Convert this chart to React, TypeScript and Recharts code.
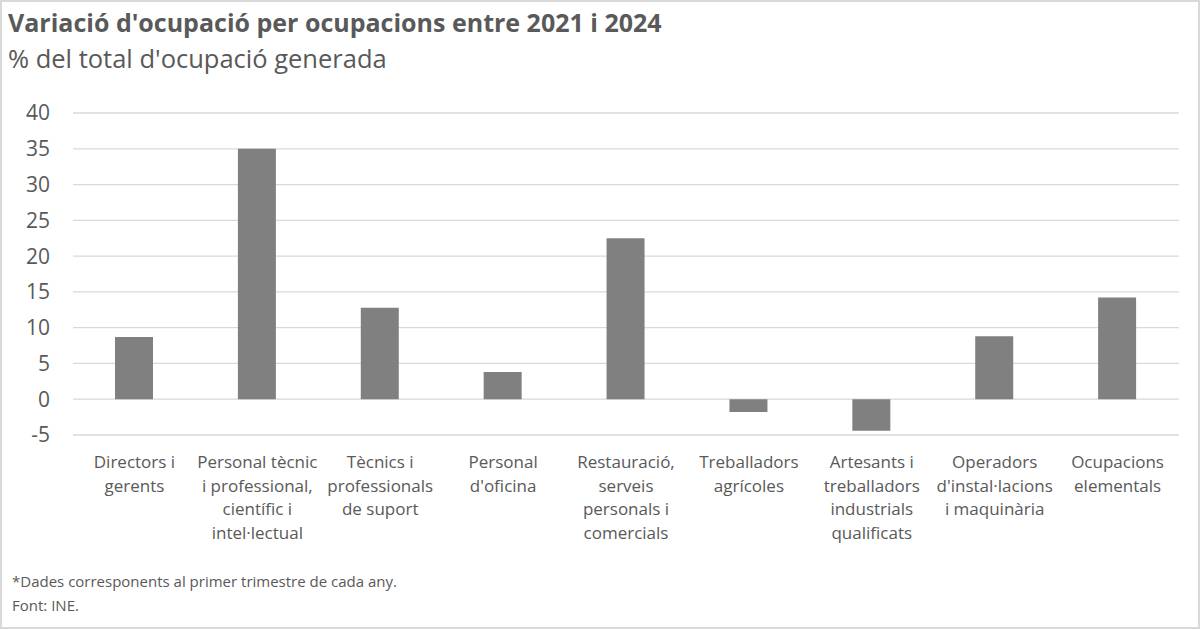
import { BarChart, Bar, XAxis, YAxis, CartesianGrid } from 'recharts'

const categories = [
  'Directors i gerents',
  'Personal tècnic i professional, científic i intel·lectual',
  'Tècnics i professionals de suport',
  "Personal d'oficina",
  'Restauració, serveis personals i comercials',
  'Treballadors agrícoles',
  'Artesants i treballadors industrials qualificats',
  "Operadors d'instal·lacions i maquinària",
  'Ocupacions elementals',
]

// how each category label wraps under the axis
const labelLines = [
  ['Directors i', 'gerents'],
  ['Personal tècnic', 'i professional,', 'científic i', 'intel·lectual'],
  ['Tècnics i', 'professionals', 'de suport'],
  ['Personal', "d'oficina"],
  ['Restauració,', 'serveis', 'personals i', 'comercials'],
  ['Treballadors', 'agrícoles'],
  ['Artesants i', 'treballadors', 'industrials', 'qualificats'],
  ['Operadors', "d'instal·lacions", 'i maquinària'],
  ['Ocupacions', 'elementals'],
]

const values = [8.7, 35.0, 12.8, 3.8, 22.5, -1.8, -4.4, 8.8, 14.2]

const yTicks = [-5, 0, 5, 10, 15, 20, 25, 30, 35, 40]

const data = categories.map((name, i) => ({ name, value: values[i] }))

const FONT = '"Open Sans", Lato, sans-serif'
const TEXT = '#595959'

function CategoryTick(props: any) {
  const { x, y, index } = props
  const lines = labelLines[index] || []
  return (
    <text x={x} y={y} textAnchor="middle" fill={TEXT} fontSize={17} fontFamily={FONT}>
      {lines.map((l, i) => (
        <tspan key={i} x={x} dy={i === 0 ? 25 : 23.6}>
          {l}
        </tspan>
      ))}
    </text>
  )
}

export default function App() {
  return (
    <div
      style={{
        position: 'absolute',
        left: 0,
        top: 0,
        width: 1200,
        height: 629,
        boxSizing: 'border-box',
        border: '2px solid #d9d9d9',
        background: '#fff',
        fontFamily: FONT,
        color: TEXT,
      }}
    >
      <div style={{ position: 'absolute', left: 6, top: 5, fontSize: 25, lineHeight: '30px', fontWeight: 700, whiteSpace: 'nowrap' }}>
        Variació d'ocupació per ocupacions entre 2021 i 2024
      </div>
      <div style={{ position: 'absolute', left: 6, top: 41, fontSize: 25.5, lineHeight: '30px', whiteSpace: 'nowrap' }}>
        % del total d'ocupació generada
      </div>
      <div style={{ position: 'absolute', left: -2, top: -2 }}>
        <BarChart width={1200} height={629} data={data} margin={{ top: 113, right: 21, bottom: 44, left: 0 }}>
          <CartesianGrid vertical={false} stroke="#d9d9d9" strokeWidth={1.3} />
          <XAxis dataKey="name" axisLine={false} tickLine={false} height={150} interval={0} tick={<CategoryTick />} />
          <YAxis
            domain={[-5, 40]}
            ticks={yTicks}
            width={73}
            axisLine={false}
            tickLine={false}
            tickSize={0}
            tickMargin={23}
            interval={0}
            tick={{ fill: TEXT, fontSize: 21, fontFamily: FONT }}
          />
          <Bar dataKey="value" fill="#808080" barSize={38} isAnimationActive={false} />
        </BarChart>
      </div>
      <div style={{ position: 'absolute', left: 10, top: 567, fontSize: 15, lineHeight: '24px' }}>
        *Dades corresponents al primer trimestre de cada any.
        <br />
        Font: INE.
      </div>
    </div>
  )
}
